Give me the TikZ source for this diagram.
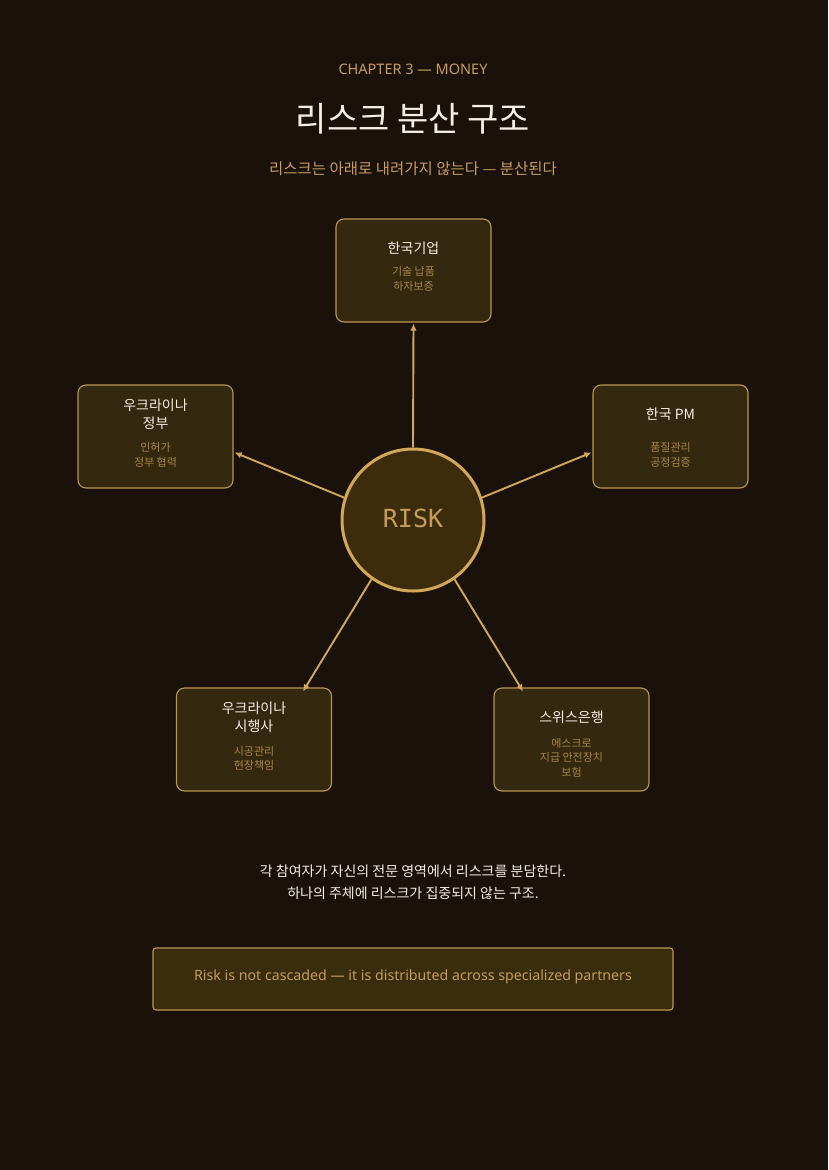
\documentclass[tikz,border=0pt]{standalone}
\usepackage{fontspec}
\setmainfont{Noto Sans}
\newfontfamily\kr{Noto Sans CJK KR}
\newfontfamily\mono{DejaVu Sans Mono}
\usetikzlibrary{arrows.meta}
\definecolor{bg}{RGB}{26,17,10}
\definecolor{boxfill}{RGB}{52,40,14}
\definecolor{circfill}{RGB}{60,44,11}
\definecolor{notefill}{RGB}{58,45,14}
\definecolor{gold}{RGB}{210,168,88}
\definecolor{goldline}{RGB}{186,150,82}
\definecolor{goldtext}{RGB}{196,156,92}
\definecolor{subgold}{RGB}{168,134,72}
\definecolor{whitetext}{RGB}{245,240,230}
\tikzset{
  rolebox/.style={draw=goldline, line width=1.1pt, fill=boxfill, rounded corners=8pt,
    minimum width=155pt, minimum height=103pt, inner sep=0pt},
  roletitle/.style={text=whitetext, font=\kr\fontsize{14}{18}\selectfont, align=center, inner sep=0pt},
  rolesub/.style={text=subgold, font=\kr\fontsize{11}{14.5}\selectfont, align=center, inner sep=0pt},
  arr/.style={draw=gold, line width=1.9pt, -{Latex[length=7pt,width=6.5pt]}},
}
\begin{document}
\begin{tikzpicture}[x=1pt,y=-1pt]
\fill[bg] (0,0) rectangle (828,1170);
\useasboundingbox (0,0) rectangle (828,1170);

% header
\node[text=goldtext, font=\fontsize{14.5}{16}\selectfont, inner sep=0pt] (chap) at (413,69) {CHAPTER 3 — MONEY};
\node[text=whitetext, font=\kr\fontsize{34}{40}\selectfont, inner sep=0pt] (title) at (413,119) {리스크 분산 구조};
\node[text=goldtext, font=\kr\fontsize{15.5}{18}\selectfont, inner sep=0pt] (subtitle) at (413,169) {리스크는 아래로 내려가지 않는다 — 분산된다};

% boxes
\node[rolebox] (top) at (413.5,270.5) {};
\node[rolebox] (left) at (155.5,436.5) {};
\node[rolebox] (right) at (670.5,436.5) {};
\node[rolebox] (bl) at (254,739.5) {};
\node[rolebox] (br) at (571.5,739.5) {};

% circle
\node[circle, draw=gold, line width=3pt, fill=circfill, minimum size=142pt, inner sep=0pt] (risk) at (413,520) {};
\node[text=goldtext, font=\mono\fontsize{25}{28}\selectfont, inner sep=0pt] (risklabel) at (413,518) {RISK};

% box texts
\node[roletitle] (toptitle) at (413.5,248) {한국기업};
\node[rolesub] (topsub) at (413.5,279) {기술 납품\\하자보증};

\node[roletitle] (lefttitle) at (155.5,414) {우크라이나\\정부};
\node[rolesub] (leftsub) at (155.5,455) {인허가\\정부 협력};

\node[roletitle] (righttitle) at (670.5,414) {한국 PM};
\node[rolesub] (rightsub) at (670.5,455) {품질관리\\공정검증};

\node[roletitle] (bltitle) at (254,717) {우크라이나\\시행사};
\node[rolesub] (blsub) at (254,758.5) {시공관리\\현장책임};

\node[roletitle] (brtitle) at (571.5,717) {스위스은행};
\node[rolesub] (brsub) at (571.5,757.5) {에스크로\\지급 안전장치\\보험};

% arrows
\draw[arr] (risk.north) -- ([yshift=-1pt]top.south);
\draw[arr] (risk.162) -- ([xshift=1pt,yshift=-16pt]left.east);
\draw[arr] (risk.18) -- ([xshift=-1pt,yshift=-16pt]right.west);
\draw[arr] (risk.235) -- ([xshift=49pt,yshift=-4pt]bl.north);
\draw[arr] (risk.305) -- ([xshift=-48.5pt,yshift=-4pt]br.north);

% footer text
\node[text=whitetext, font=\kr\fontsize{14}{22}\selectfont, align=center, inner sep=0pt] (caption) at (413,882) {각 참여자가 자신의 전문 영역에서 리스크를 분담한다.\\하나의 주체에 리스크가 집중되지 않는 구조.};

\node[draw=goldline, line width=1.1pt, fill=notefill, rounded corners=3pt, minimum width=520pt, minimum height=62pt, inner sep=0pt] (note) at (413,979) {};
\node[text=goldtext, font=\fontsize{14.2}{16}\selectfont, inner sep=0pt] (notetext) at (413,977) {Risk is not cascaded — it is distributed across specialized partners};
\end{tikzpicture}
\end{document}
